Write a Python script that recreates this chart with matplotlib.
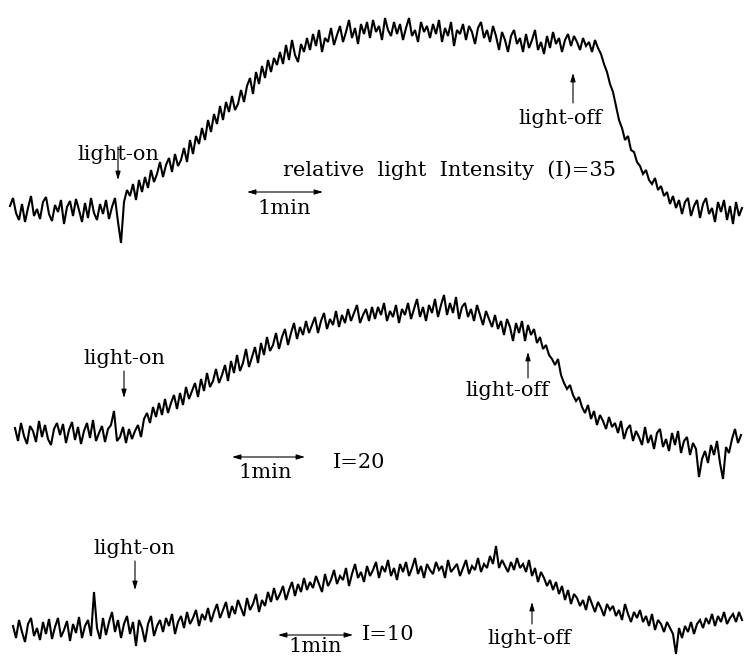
import numpy as np
import matplotlib
matplotlib.use("Agg")
import matplotlib.pyplot as plt

# ---- data: recorded signal (height above each trace's own baseline, arbitrary units) ----
PX_PER_MIN = 76.0            # length of the "1min" bar
step_min = 3 / PX_PER_MIN

trace1_start = 10 / PX_PER_MIN   # I = 35
trace1 = [4, 12, -3, -10, 6, -12, 2, 14, -6, 1,
          -9, 8, 13, -4, -11, 5, -2, 10, -14, 3,
          9, -6, 11, 0, -12, 7, -8, 12, -3, -10,
          6, -4, 10, -9, 3, 12, -12, -33, 8, 20,
          14, 26, 10, 30, 18, 33, 22, 40, 28, 36,
          48, 33, 45, 52, 38, 56, 44, 50, 62, 48,
          70, 56, 74, 66, 82, 70, 90, 78, 96, 86,
          104, 90, 108, 98, 114, 100, 106, 120, 108, 124,
          132, 116, 138, 126, 144, 132, 150, 138, 152, 145,
          158, 146, 165, 150, 170, 155, 148, 166, 158, 172,
          160, 176, 164, 180, 158, 172, 168, 182, 165, 175,
          184, 168, 178, 190, 172, 182, 166, 186, 176, 188,
          172, 190, 178, 184, 170, 192, 180, 174, 188, 176,
          186, 170, 182, 192, 174, 180, 168, 188, 178, 184,
          172, 186, 176, 190, 168, 182, 174, 188, 164, 180,
          176, 186, 170, 184, 178, 166, 182, 188, 172, 180,
          168, 184, 174, 160, 178, 170, 158, 174, 180, 166,
          172, 158, 176, 162, 170, 180, 160, 168, 156, 174,
          162, 178, 166, 172, 158, 170, 176, 164, 174, 168,
          160, 172, 164, 168, 158, 170, 162, 156, 146, 138,
          126, 118, 104, 90, 82, 70, 74, 60, 58, 48,
          44, 36, 40, 30, 26, 32, 20, 24, 14, 18,
          6, 14, 2, 10, -4, 8, 12, -6, 4, 10,
          -8, 6, 12, -4, 2, -12, 8, -2, 10, -10,
          4, -14, 8, -6, 2]

trace2_start = 15 / PX_PER_MIN   # I = 20
trace2 = [5, -8, 10, -3, -11, 7, 2, -9, 12, -4,
          8, -6, -12, 4, 10, -2, 9, -10, 3, 11,
          -7, 6, -11, 2, 10, -5, 13, -8, 0, 7,
          -9, 4, 8, 22, -8, -4, 6, -10, 4, -6,
          2, 8, -4, 14, 20, 10, 26, 16, 30, 18,
          34, 20, 30, 38, 24, 40, 28, 46, 34, 42,
          50, 36, 54, 42, 60, 46, 52, 64, 50, 58,
          68, 52, 72, 60, 78, 62, 70, 84, 66, 76,
          86, 70, 90, 78, 96, 82, 88, 100, 84, 96,
          104, 88, 100, 110, 94, 106, 98, 112, 100, 108,
          116, 100, 112, 120, 104, 114, 108, 122, 106, 118,
          110, 124, 112, 120, 128, 110, 118, 124, 112, 126,
          114, 126, 118, 130, 112, 122, 116, 128, 110, 124,
          118, 130, 114, 124, 134, 116, 126, 112, 128, 120,
          134, 116, 128, 138, 118, 130, 120, 136, 114, 126,
          130, 116, 124, 112, 128, 118, 108, 122, 114, 106,
          118, 104, 112, 98, 114, 106, 92, 110, 100, 112,
          92, 108, 98, 104, 90, 96, 84, 88, 78, 74,
          68, 74, 58, 50, 44, 48, 38, 32, 36, 26,
          20, 28, 14, 22, 8, 18, 12, 4, 16, 6,
          10, 0, 12, -6, 4, 8, -8, 2, -4, -12,
          6, -10, -2, -16, 0, 4, -14, -6, -18, 0,
          -12, 2, -20, -8, -4, -22, -10, -16, -44, -26,
          -18, -30, -12, -22, -8, -30, -46, -14, -20, -6,
          4, -10, -2]

trace3_start = 13 / PX_PER_MIN   # I = 10
trace3 = [4, -8, 10, -2, -12, 6, 12, -6, 2, -10,
          8, -4, 11, -9, 3, 12, -7, 0, 9, -11,
          6, -3, 13, -8, 4, 10, -6, 38, 2, -9,
          12, -5, 8, 18, -2, 10, -8, 6, 14, -4,
          8, -16, 10, 2, -12, 6, 14, -6, 4, 10,
          -2, 12, 4, 16, -4, 8, 14, 2, 18, 6,
          12, 20, 4, 16, 10, 22, 8, 18, 26, 12,
          20, 28, 12, 24, 16, 30, 22, 14, 32, 20,
          26, 36, 18, 30, 24, 38, 28, 42, 30, 36,
          44, 30, 40, 48, 34, 46, 38, 52, 40, 48,
          42, 54, 46, 38, 56, 44, 50, 60, 46, 54,
          50, 62, 44, 56, 66, 52, 58, 48, 64, 54,
          60, 68, 52, 64, 58, 70, 54, 62, 50, 66,
          58, 68, 54, 62, 72, 56, 64, 52, 66, 60,
          56, 68, 60, 64, 52, 70, 58, 62, 66, 54,
          62, 70, 56, 64, 60, 72, 58, 66, 62, 74,
          66, 84, 62, 70, 64, 58, 68, 60, 72, 62,
          66, 58, 70, 54, 62, 48, 58, 52, 44, 50,
          40, 48, 36, 44, 30, 40, 26, 36, 32, 24,
          30, 20, 34, 26, 18, 28, 22, 14, 26, 20,
          24, 14, 20, 10, 26, 16, 8, 18, 12, 20,
          8, 14, 4, 16, 0, 10, 6, -2, 8, 2,
          -4, -24, 2, -8, 4, -2, 8, -4, 6, 10,
          2, 12, 6, 16, 4, 14, 8, 18, 6, 12,
          16, 8, 18, 10]

labels_I = ["relative  light  Intensity  (I)=35", "I=20", "I=10"]

# ---- layout ----
W, H = 744, 659
fig = plt.figure(figsize=(W / 100, H / 100), dpi=100)
ax = fig.add_axes([0, 0, 1, 1])
ax.set_xlim(0, W / PX_PER_MIN)
ax.set_ylim(0, H)
ax.axis("off")

def P(xpx, ypx):
    return (xpx / PX_PER_MIN, H - ypx)

baselines = [H - 210, H - 433, H - 630]
traces = [(trace1_start, trace1), (trace2_start, trace2), (trace3_start, trace3)]
for (t0, vals), b in zip(traces, baselines):
    v = np.asarray(vals, dtype=float)
    t = t0 + step_min * np.arange(len(v))
    ax.plot(t, b + v, color="black", lw=1.5, solid_joinstyle="miter")

FONT = dict(family="DejaVu Serif", fontsize=15, color="black")
arr = dict(arrowstyle="-|>,head_length=0.5,head_width=0.15", color="black", lw=0.8,
           shrinkA=0, shrinkB=0)
dbl = dict(arrowstyle="<|-|>,head_length=0.5,head_width=0.15", color="black", lw=0.8,
           shrinkA=0, shrinkB=0)

def text(xpx, ypx, s, ha="center"):
    ax.text(*P(xpx, ypx), s, ha=ha, va="center", **FONT)

def arrow(x0, y0, x1, y1, props=arr):
    ax.annotate("", xy=P(x1, y1), xytext=P(x0, y0), arrowprops=props)

# trace 1
text(118, 155, "light-on")
arrow(118, 147, 118, 180)
text(283, 170, labels_I[0], ha="left")
arrow(247, 192, 323, 192, dbl)
text(284, 208, "1min")
text(560, 118, "light-off")
arrow(573, 103, 573, 73)

# trace 2
text(124, 358, "light-on")
arrow(124, 371, 124, 398)
arrow(232, 457, 305, 457, dbl)
text(265, 473, "1min")
text(333, 463, labels_I[1], ha="left")
text(507, 390, "light-off")
arrow(528, 378, 528, 352)

# trace 3
text(134, 549, "light-on")
arrow(135, 561, 135, 590)
arrow(278, 635, 353, 635, dbl)
text(315, 647, "1min")
text(362, 635, labels_I[2], ha="left")
text(529, 638, "light-off")
arrow(532, 624, 532, 602)

fig.savefig("out.png", dpi=100)
